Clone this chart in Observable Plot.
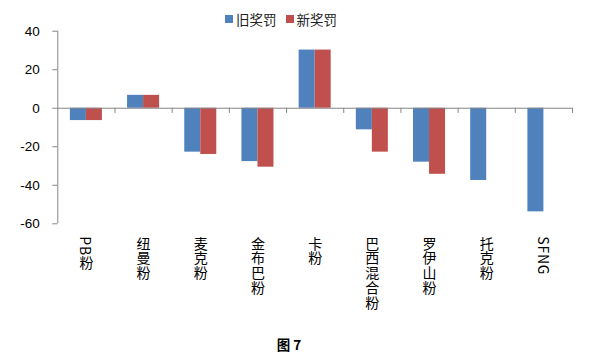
<!DOCTYPE html>
<html>
<head>
<meta charset="utf-8">
<script src="https://cdn.jsdelivr.net/npm/d3@7"></script>
<script src="https://cdn.jsdelivr.net/npm/@observablehq/plot@0.6"></script>
<style>
  html, body { margin: 0; padding: 0; background: #fff; }
  #wrap { position: relative; width: 604px; height: 356px; overflow: hidden; }
  #legend { position: absolute; top: 10px; left: 225px; display: flex; align-items: center;
            font-family: "Noto Sans CJK SC", sans-serif; font-size: 13.5px; color: #222; line-height: 18px; }
  #legend .sw { width: 8px; height: 8px; display: inline-block; margin-right: 3px; }
  #legend .item { display: flex; align-items: center; margin-right: 9px; }
  #caption { position: absolute; top: 334px; left: 0; width: 578px; text-align: center;
             font-family: "Noto Sans CJK SC", sans-serif; font-weight: bold; font-size: 13.5px; color: #000; }
  .vlabels text { writing-mode: vertical-rl; letter-spacing: 0.8px; }
</style>
</head>
<body>
<div id="wrap">
  <div id="chart"></div>
  <div id="legend"></div>
  <div id="caption">图 7</div>
</div>
<script>
const categories = ["PB粉", "纽曼粉", "麦克粉", "金布巴粉", "卡粉", "巴西混合粉", "罗伊山粉", "托克粉", "SFNG"];
const oldValues = [-6.4, 6.7, -22.8, -27.7, 30.2, -11.2, -28.0, -37.5, -53.8];
const newValues = [-6.4, 6.7, -24.0, -30.6, 30.2, -22.8, -34.3, null, null];
const seriesNames = ["旧奖罚", "新奖罚"];
const seriesColors = ["#4F81BD", "#C0504D"];
const yTicks = [-60, -40, -20, 0, 20, 40];

const rows = categories.map((c, i) => ({cat: c, i, old: oldValues[i], neu: newValues[i]}));
const boundaries = d3.range(1, categories.length + 1);

const chart = Plot.plot({
  width: 604,
  height: 356,
  marginTop: 30.7,
  marginBottom: 132.7,
  marginLeft: 57.3,
  marginRight: 32,
  x: {domain: [0, categories.length], axis: null},
  y: {domain: [-60, 40], axis: null},
  marks: [
    Plot.rect(rows, {x1: d => d.i + 0.22, x2: d => d.i + 0.5, y1: 0, y2: "old", fill: seriesColors[0]}),
    Plot.rect(rows.filter(d => d.neu != null), {x1: d => d.i + 0.5, x2: d => d.i + 0.78, y1: 0, y2: "neu", fill: seriesColors[1]}),
    Plot.ruleY([0], {stroke: "#868686", strokeWidth: 1}),
    Plot.ruleX([0], {stroke: "#868686", strokeWidth: 1}),
    Plot.ruleX(boundaries, {y1: 0, y2: -2.7, stroke: "#868686", strokeWidth: 1}),
    Plot.axisY({ticks: yTicks, tickSize: 5, tickPadding: 13, stroke: "#868686", fill: "#000",
                tickFormat: d => String(d),
                fontSize: 13.5, fontFamily: "Liberation Sans, sans-serif"}),
    Plot.text(categories, {x: (d, i) => i + 0.5, text: d => d, frameAnchor: "bottom", dy: 8,
                textAnchor: "start", lineAnchor: "middle", fontSize: 14, fill: "#000",
                fontFamily: "Noto Sans CJK SC, sans-serif", className: "vlabels"})
  ]
});
document.getElementById("chart").appendChild(chart);

const legend = document.getElementById("legend");
seriesNames.forEach((n, k) => {
  const it = document.createElement("div");
  it.className = "item";
  const sw = document.createElement("span");
  sw.className = "sw";
  sw.style.background = seriesColors[k];
  const tx = document.createElement("span");
  tx.textContent = n;
  it.appendChild(sw); it.appendChild(tx);
  legend.appendChild(it);
});
</script>
</body>
</html>
